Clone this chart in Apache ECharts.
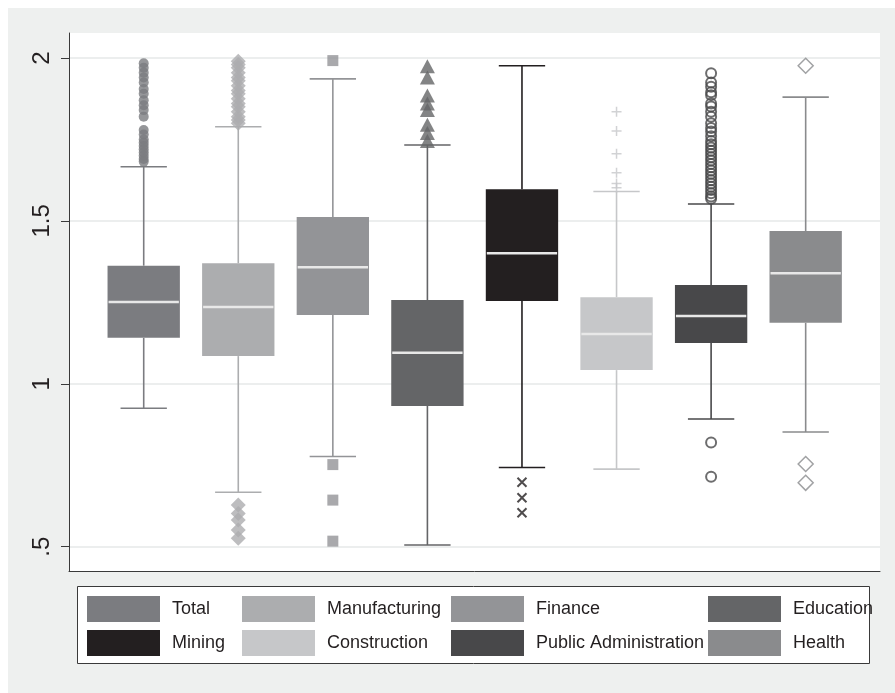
<!DOCTYPE html>
<html>
<head>
<meta charset="utf-8">
<script src="https://cdn.jsdelivr.net/npm/echarts@6/dist/echarts.min.js"></script>
<style>
  html, body { margin: 0; padding: 0; background: #ffffff; }
  #chart { width: 895px; height: 693px; }
</style>
</head>
<body>
<div id="chart"></div>
<script>
// Sector groups, one box each
const categories = ['Total', 'Manufacturing', 'Finance', 'Education',
  'Mining', 'Construction', 'Public Administration', 'Health'];

// Box statistics per sector
const lowerWhisker = [0.925, 0.667, 0.777, 0.505, 0.743, 0.738, 0.892, 0.852];
const lowerQuartile = [1.141, 1.085, 1.211, 0.932, 1.254, 1.042, 1.125, 1.187];
const medianValue = [1.251, 1.236, 1.358, 1.095, 1.401, 1.153, 1.208, 1.339];
const upperQuartile = [1.3625, 1.370, 1.512, 1.257, 1.597, 1.266, 1.303, 1.469];
const upperWhisker = [1.666, 1.789, 1.936, 1.733, 1.976, 1.590, 1.552, 1.880];

// Points beyond the whiskers
const totalOutliers = [1.984, 1.970, 1.955, 1.940, 1.925, 1.905, 1.890, 1.870, 1.855, 1.840, 1.820,
  1.779, 1.765, 1.750, 1.740, 1.730, 1.720, 1.710, 1.700, 1.690, 1.682];
const manufacturingOutliers = [1.990, 1.980, 1.970, 1.955, 1.940, 1.930, 1.915, 1.900, 1.890,
  1.875, 1.860, 1.850, 1.835, 1.820, 1.810, 1.800,
  0.628, 0.602, 0.582, 0.551, 0.526];
const financeOutliers = [1.992, 0.752, 0.643, 0.517];
const educationOutliers = [1.975, 1.940, 1.885, 1.860, 1.840, 1.795, 1.770, 1.745];
const miningOutliers = [0.698, 0.650, 0.604];
const constructionOutliers = [1.835, 1.776, 1.706, 1.648, 1.615, 1.602];
const publicAdminOutliers = [1.953, 1.925, 1.912, 1.895, 1.886, 1.860, 1.851, 1.835, 1.820, 1.800,
  1.785, 1.774, 1.760, 1.745, 1.735, 1.725, 1.715, 1.705, 1.695, 1.685, 1.675, 1.665,
  1.655, 1.645, 1.635, 1.625, 1.615, 1.605, 1.595, 1.585, 1.575, 1.568,
  0.820, 0.715];
const healthOutliers = [1.976, 0.754, 0.696];

const outlierLists = [totalOutliers, manufacturingOutliers, financeOutliers, educationOutliers,
  miningOutliers, constructionOutliers, publicAdminOutliers, healthOutliers];

// Value axis ticks
const yTickValues = [0.5, 1, 1.5, 2];
const yTickLabels = ['.5', '1', '1.5', '2'];

// Styling
const sectorColors = ['#7b7c80', '#acadaf', '#939497', '#646567',
  '#231f20', '#c6c7c9', '#48484a', '#8a8b8d'];
const markerStyles = [
  { symbol: 'circle', size: 10, fill: true },
  { symbol: 'diamond', size: 15, fill: true },
  { symbol: 'rect', size: 11, fill: true },
  { symbol: 'triangle', size: [15, 14], fill: true },
  { symbol: 'path://M0,0L10,10M10,0L0,10', size: 9, fill: false, width: 2 },
  { symbol: 'path://M5,0L5,10M0,5L10,5', size: 10, fill: false, width: 1.5 },
  { symbol: 'circle', size: 10, fill: false, width: 2 },
  { symbol: 'diamond', size: 15, fill: false, width: 1.5 }
];
const BOX_WIDTH = 0.765;   // in category units
const CAP_WIDTH = 0.49;
const FONT = '"Liberation Sans", Arial, sans-serif';
const TEXT_COLOR = '#231f20';

const legendLefts = [87, 242, 451, 708];
const legendTops = [596, 630];

function renderBox(params, api) {
  const i = api.value(0);
  const color = api.visual('color');
  const pt = v => api.coord([i, v]);
  const x = pt(api.value(1))[0];
  const yLo = pt(api.value(1))[1];
  const yQ1 = pt(api.value(2))[1];
  const yMed = pt(api.value(3))[1];
  const yQ3 = pt(api.value(4))[1];
  const yHi = pt(api.value(5))[1];
  const bw = api.size([BOX_WIDTH, 0])[0];
  const cw = api.size([CAP_WIDTH, 0])[0];
  const whisker = { stroke: color, lineWidth: 1.6 };
  return {
    type: 'group',
    children: [
      { type: 'line', shape: { x1: x, y1: yQ3, x2: x, y2: yHi }, style: whisker },
      { type: 'line', shape: { x1: x, y1: yQ1, x2: x, y2: yLo }, style: whisker },
      { type: 'line', shape: { x1: x - cw / 2, y1: yHi, x2: x + cw / 2, y2: yHi }, style: whisker },
      { type: 'line', shape: { x1: x - cw / 2, y1: yLo, x2: x + cw / 2, y2: yLo }, style: whisker },
      { type: 'rect', shape: { x: x - bw / 2, y: yQ3, width: bw, height: yQ1 - yQ3 }, style: { fill: color } },
      { type: 'line', shape: { x1: x - bw / 2 + 1, y1: yMed, x2: x + bw / 2 - 1, y2: yMed },
        style: { stroke: '#e8e8e8', lineWidth: 2.5 } }
    ]
  };
}

const boxSeries = categories.map((name, i) => ({
  name: name,
  type: 'custom',
  renderItem: renderBox,
  itemStyle: { color: sectorColors[i] },
  encode: { x: 0, y: [1, 2, 3, 4, 5] },
  data: [[i, lowerWhisker[i], lowerQuartile[i], medianValue[i], upperQuartile[i], upperWhisker[i]]],
  z: 2,
  silent: true
}));

const outlierSeries = categories.map((name, i) => {
  const m = markerStyles[i];
  return {
    name: name,
    type: 'scatter',
    symbol: m.symbol,
    symbolSize: m.size,
    itemStyle: m.fill
      ? { color: sectorColors[i] }
      : { color: 'rgba(0,0,0,0)', borderColor: sectorColors[i], borderWidth: m.width },
    data: outlierLists[i].map(v => [i, v]),
    z: 3,
    silent: true,
    animation: false
  };
});

const legends = categories.map((name, i) => ({
  data: [name],
  left: legendLefts[i % 4],
  top: legendTops[Math.floor(i / 4)],
  padding: 0,
  icon: 'rect',
  itemWidth: 73,
  itemHeight: 26,
  selectedMode: false,
  textStyle: { fontSize: 18, fontFamily: FONT, color: TEXT_COLOR, padding: [0, 0, 0, 7] }
}));

const chart = echarts.init(document.getElementById('chart'), null, { renderer: 'canvas' });
chart.setOption({
  animation: false,
  backgroundColor: '#ffffff',
  graphic: [
    { type: 'rect', z: -10, shape: { x: 8, y: 8, width: 887, height: 685 }, style: { fill: '#eef0ef' } },
    { type: 'rect', z: 1, shape: { x: 77.5, y: 586.5, width: 792, height: 77 },
      style: { fill: '#ffffff', stroke: '#3a3a3a', lineWidth: 1 } }
  ],
  grid: {
    left: 69, right: 15, top: 33, bottom: 122,
    show: true, backgroundColor: '#ffffff', borderWidth: 0
  },
  xAxis: {
    type: 'value',
    min: -0.79, max: 7.786,
    axisLine: { show: true, onZero: false, lineStyle: { color: '#3a3a3a', width: 1 } },
    axisTick: { show: false },
    axisLabel: { show: false },
    splitLine: { show: false }
  },
  yAxis: {
    type: 'value',
    min: 0.4254, max: 2.0767,
    axisLine: { show: true, onZero: false, lineStyle: { color: '#3a3a3a', width: 1 } },
    axisTick: { show: true, length: 8, customValues: yTickValues, lineStyle: { color: '#3a3a3a' } },
    axisLabel: {
      customValues: yTickValues,
      rotate: 90,
      margin: 15,
      fontSize: 24,
      fontFamily: FONT,
      color: TEXT_COLOR,
      formatter: v => {
        const k = yTickValues.findIndex(t => Math.abs(t - v) < 1e-9);
        return k >= 0 ? yTickLabels[k] : '';
      }
    },
    splitLine: { show: true, lineStyle: { color: '#e6e8e8', width: 1.5 } }
  },
  legend: legends,
  series: boxSeries.concat(outlierSeries)
});
</script>
</body>
</html>
